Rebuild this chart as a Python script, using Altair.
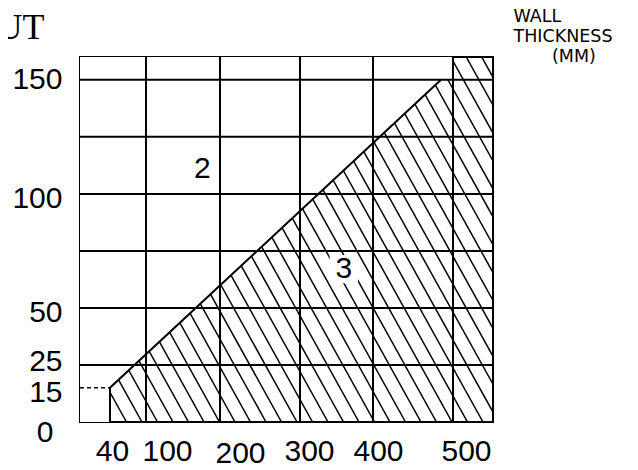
import altair as alt
import pandas as pd
import numpy as np

# ---- data ----
X_TICKS = [40, 100, 200, 300, 400, 500]          # wall thickness tick labels (mm)
Y_TICKS = [0, 15, 25, 50, 100, 150]              # UT tick labels
X_GRID = [100, 200, 300, 400, 500]               # vertical grid lines
Y_GRID = [25, 50, 75, 100, 125, 150]             # horizontal grid lines
BOUND_X = [40, 40, 485]                          # boundary of zone 3
BOUND_Y = [0, 15, 150]
ZONE2_X = [40, 485, 500]                         # lower edge of zone 2 (right of 40 mm)
ZONE2_Y = [15, 150, 150]
DASH_X = [0, 40]                                 # dashed threshold at UT 15
DASH_Y = 15
ZONE_TEXT = ["2", "3"]
ZONE_X = [176, 360]
ZONE_Y = [111, 67]

X_MAX = 550
Y_MAX = 160
# the drawing's irregular horizontal scale (piecewise)
X_DOMAIN = [0, 40, 100, 200, 300, 400, 500, 550]
X_RANGE = [0, 30, 66, 140, 220, 293, 373, 413]
W, H = 413, 365

FONT = "Liberation Sans"
BLANK = "\u2800"

xs = alt.Scale(domain=X_DOMAIN, range=X_RANGE, nice=False, zero=False)
ys = alt.Scale(domain=[0, Y_MAX], nice=False)

x_off = {"condition": [
    {"test": "datum.value === 40", "value": 2},
    {"test": "datum.value === 100", "value": 21},
    {"test": "datum.value === 200", "value": 20},
    {"test": "datum.value === 300", "value": 9},
    {"test": "datum.value === 400", "value": 5},
], "value": 13}
x_pad = {"condition": [{"test": "datum.value === 200", "value": 16}], "value": 14}
y_off = {"condition": [
    {"test": "datum.value === 0", "value": 10},
    {"test": "datum.value === 25", "value": -3},
    {"test": "datum.value === 150", "value": 0},
], "value": 5}
y_pad = {"condition": [{"test": "datum.value === 0", "value": 27}], "value": 18}

x_axis = alt.Axis(values=X_TICKS, grid=False, ticks=False, domain=False,
                  labelFont=FONT, labelFontSize=30, labelColor="black",
                  labelBaseline="top", labelPadding=x_pad, labelOverlap=False,
                  labelFlush=False, labelOffset=x_off,
                  title=["WALL", "THICKNESS", BLANK * 3 + "(MM)"],
                  titleFont="DejaVu Sans", titleFontSize=17.5, titleFontWeight="normal",
                  titleColor="black", titleAlign="left", titleBaseline="alphabetic",
                  titleLineHeight=20, titleX=433, titleY=-401, titleAngle=0)
y_axis = alt.Axis(values=Y_TICKS, grid=False, ticks=False, domain=False,
                  labelFont=FONT, labelFontSize=30, labelColor="black",
                  labelBaseline="middle", labelPadding=y_pad, labelOverlap=False,
                  labelFlush=False, labelOffset=y_off,
                  title="UT", titleFont="Liberation Serif", titleFontSize=36,
                  titleFontWeight="normal", titleColor="black", titleAlign="right",
                  titleBaseline="alphabetic", titleAngle=0, titleX=-36, titleY=-19)


def X(f):
    return alt.X(f, type="quantitative", scale=xs, axis=x_axis)


def Y(f):
    return alt.Y(f, type="quantitative", scale=ys, axis=y_axis)


# ---- hatch pattern (style): parallel strokes across the plot ----
HATCH_STEP = 15.5
HATCH_SLOPE = 1.8
rows = []
c = -H / HATCH_SLOPE
while c < W:
    x0, y0 = c, 0.0
    x1, y1 = c + H / HATCH_SLOPE, float(H)
    if x0 < 0:
        y0 = -x0 * HATCH_SLOPE
        x0 = 0.0
    if x1 > W:
        y1 = (W - c) * HATCH_SLOPE
        x1 = float(W)
    rows.append({"x": float(np.interp(x0, X_RANGE, X_DOMAIN)),
                 "y": Y_MAX * (1 - y0 / H),
                 "x2": float(np.interp(x1, X_RANGE, X_DOMAIN)),
                 "y2": Y_MAX * (1 - y1 / H)})
    c += HATCH_STEP
hatch_df = pd.DataFrame(rows)

hatch = alt.Chart(hatch_df).mark_rule(color="black", strokeWidth=1.5, clip=True).encode(
    x=X("x"), y=Y("y"), x2="x2", y2="y2")

# zone 2 is left blank: white cover over the hatch
cover_left = alt.Chart(pd.DataFrame({"x": [0], "x2": [DASH_X[1]], "y": [0], "y2": [Y_MAX]})).mark_rect(
    color="white", opacity=1).encode(x=X("x"), x2="x2", y=Y("y"), y2="y2")
cover_df = pd.DataFrame({"x": ZONE2_X, "y": ZONE2_Y, "top": [Y_MAX] * len(ZONE2_X)})
cover = alt.Chart(cover_df).mark_area(color="white", opacity=1).encode(
    x=X("x"), y=Y("y"), y2="top")

lab_df = pd.DataFrame({"t": ZONE_TEXT, "x": ZONE_X, "y": ZONE_Y})
box = alt.Chart(lab_df[lab_df.t == "3"]).mark_square(size=800, color="white", opacity=1).encode(
    x=X("x"), y=Y("y"))

vgrid = alt.Chart(pd.DataFrame({"x": X_GRID})).mark_rule(color="black", strokeWidth=2).encode(
    x=X("x"))
hgrid = alt.Chart(pd.DataFrame({"y": Y_GRID})).mark_rule(color="black", strokeWidth=2).encode(
    y=Y("y"))

bound_df = pd.DataFrame({"x": BOUND_X, "y": BOUND_Y, "i": list(range(len(BOUND_X)))})
bound = alt.Chart(bound_df).mark_line(color="black", strokeWidth=2).encode(
    x=X("x"), y=Y("y"), order="i:Q")

dash = alt.Chart(pd.DataFrame({"x": [DASH_X[0]], "x2": [DASH_X[1]], "y": [DASH_Y]})).mark_rule(
    color="black", strokeWidth=1.5, strokeDash=[4, 3]).encode(x=X("x"), x2="x2", y=Y("y"))

text = alt.Chart(lab_df).mark_text(font=FONT, fontSize=30, color="black",
                                   baseline="middle", align="center").encode(
    x=X("x"), y=Y("y"), text="t:N")

chart = alt.layer(hatch, cover_left, cover, box, vgrid, hgrid, bound, dash, text).properties(
    width=W, height=H,
    autosize=alt.AutoSizeParams(type="none"),
    padding={"left": 72, "top": 49, "right": 137, "bottom": 52},
).configure_view(stroke="black", strokeWidth=2)

chart.save("out.html", embed_options={"renderer": "svg", "actions": False})
